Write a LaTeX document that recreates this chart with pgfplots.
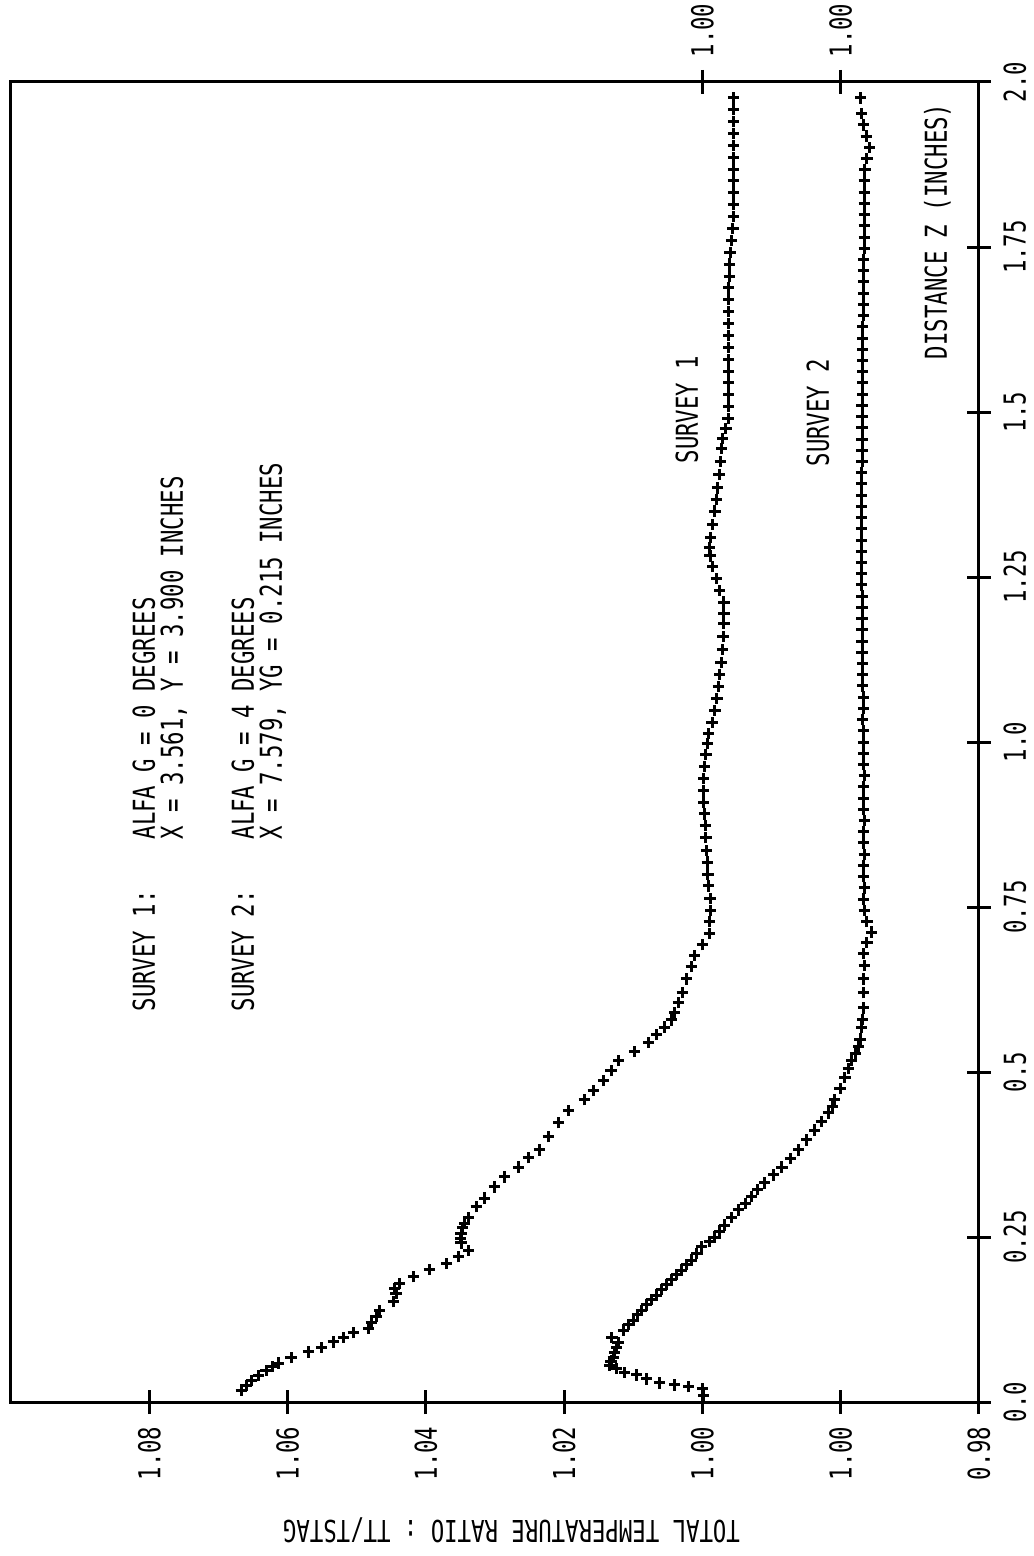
\documentclass[border=0pt]{standalone}
\usepackage{graphicx}
\usepackage{pgfplots}
\usepackage{pgfplotstable}
\pgfplotsset{compat=1.18}
\usepackage{fontspec}
\setmainfont{DejaVu Sans Mono}[FakeStretch=0.74]

% survey 1: z (inches), TT/TSTAG
\pgfplotstableread{
z v
0.018 1.0667
0.025 1.0660
0.033 1.0652
0.040 1.0642
0.048 1.0631
0.054 1.0622
0.059 1.0613
0.067 1.0595
0.076 1.0570
0.083 1.0551
0.091 1.0534
0.098 1.0519
0.105 1.0505
0.112 1.0483
0.121 1.0479
0.130 1.0472
0.139 1.0467
0.152 1.0447
0.165 1.0443
0.172 1.0445
0.180 1.0438
0.190 1.0418
0.201 1.0395
0.210 1.0370
0.220 1.0353
0.230 1.0338
0.241 1.0349
0.248 1.0350
0.256 1.0349
0.264 1.0347
0.271 1.0344
0.280 1.0338
0.296 1.0327
0.309 1.0315
0.326 1.0301
0.341 1.0286
0.356 1.0266
0.370 1.0252
0.382 1.0236
0.402 1.0223
0.423 1.0208
0.442 1.0194
0.458 1.0171
0.472 1.0158
0.487 1.0143
0.502 1.0132
0.517 1.0121
0.531 1.0098
0.545 1.0078
0.557 1.0066
0.568 1.0055
0.579 1.0045
0.590 1.0040
0.605 1.0035
0.620 1.0029
0.641 1.0023
0.660 1.0016
0.677 1.0011
0.693 1.0000
0.710 0.9990
0.728 0.9990
0.745 0.9988
0.763 0.9989
0.782 0.9991
0.800 0.9992
0.818 0.9993
0.836 0.9994
0.855 0.9995
0.873 0.9996
0.891 0.9997
0.909 0.9998
0.927 0.9998
0.945 0.9998
0.963 0.9997
0.981 0.9995
0.998 0.9993
1.013 0.9991
1.030 0.9986
1.048 0.9982
1.066 0.9979
1.084 0.9977
1.102 0.9975
1.120 0.9973
1.140 0.9971
1.160 0.9970
1.180 0.9969
1.195 0.9969
1.212 0.9969
1.230 0.9975
1.248 0.9980
1.266 0.9985
1.282 0.9989
1.294 0.9990
1.310 0.9988
1.330 0.9985
1.350 0.9982
1.367 0.9980
1.385 0.9978
1.405 0.9976
1.425 0.9974
1.445 0.9972
1.460 0.9971
1.475 0.9966
1.490 0.9963
1.508 0.9962
1.526 0.9962
1.544 0.9962
1.562 0.9962
1.580 0.9962
1.598 0.9962
1.616 0.9962
1.634 0.9962
1.652 0.9962
1.670 0.9962
1.688 0.9962
1.706 0.9961
1.724 0.9961
1.742 0.9960
1.760 0.9958
1.778 0.9956
1.796 0.9955
1.814 0.9955
1.832 0.9955
1.850 0.9955
1.868 0.9955
1.886 0.9955
1.904 0.9955
1.922 0.9955
1.940 0.9955
1.958 0.9955
1.976 0.9955
}\surveyone

% survey 2: z (inches), TT/TSTAG
\pgfplotstableread{
z v
0.010 1.0198
0.020 1.0200
0.023 1.0220
0.026 1.0240
0.029 1.0262
0.035 1.0281
0.041 1.0295
0.045 1.0313
0.051 1.0324
0.056 1.0334
0.062 1.0332
0.068 1.0329
0.075 1.0327
0.083 1.0324
0.090 1.0322
0.098 1.0331
0.109 1.0314
0.117 1.0307
0.124 1.0300
0.132 1.0294
0.139 1.0288
0.147 1.0281
0.155 1.0274
0.162 1.0266
0.170 1.0259
0.178 1.0252
0.185 1.0245
0.193 1.0237
0.200 1.0230
0.208 1.0223
0.215 1.0216
0.225 1.0208
0.235 1.0201
0.243 1.0190
0.250 1.0182
0.259 1.0175
0.268 1.0168
0.280 1.0158
0.291 1.0148
0.301 1.0138
0.311 1.0129
0.322 1.0120
0.332 1.0110
0.344 1.0097
0.356 1.0085
0.369 1.0073
0.382 1.0061
0.397 1.0049
0.412 1.0038
0.425 1.0028
0.438 1.0018
0.448 1.0012
0.458 1.0009
0.475 1.0001
0.492 0.9994
0.505 0.9989
0.517 0.9984
0.528 0.9979
0.539 0.9974
0.550 0.9972
0.568 0.9970
0.580 0.9968
0.597 0.9967
0.620 0.9967
0.641 0.9967
0.661 0.9966
0.680 0.9967
0.696 0.9962
0.712 0.9955
0.728 0.9962
0.745 0.9966
0.762 0.9967
0.779 0.9966
0.796 0.9967
0.813 0.9967
0.830 0.9966
0.847 0.9967
0.864 0.9967
0.881 0.9966
0.898 0.9967
0.915 0.9967
0.932 0.9967
0.949 0.9966
0.966 0.9967
0.983 0.9967
1.000 0.9967
1.017 0.9967
1.034 0.9968
1.051 0.9967
1.068 0.9967
1.085 0.9968
1.102 0.9968
1.119 0.9968
1.136 0.9969
1.153 0.9969
1.170 0.9969
1.187 0.9969
1.204 0.9969
1.221 0.9969
1.238 0.9970
1.255 0.9970
1.272 0.9970
1.289 0.9970
1.306 0.9970
1.323 0.9970
1.340 0.9970
1.357 0.9970
1.374 0.9970
1.391 0.9970
1.408 0.9970
1.425 0.9969
1.442 0.9969
1.459 0.9969
1.476 0.9969
1.493 0.9969
1.510 0.9969
1.527 0.9968
1.544 0.9968
1.561 0.9968
1.578 0.9968
1.595 0.9968
1.612 0.9968
1.629 0.9968
1.646 0.9967
1.663 0.9967
1.680 0.9967
1.697 0.9967
1.714 0.9967
1.731 0.9967
1.748 0.9966
1.765 0.9966
1.782 0.9966
1.799 0.9966
1.816 0.9966
1.833 0.9966
1.850 0.9966
1.867 0.9965
1.884 0.9962
1.901 0.9958
1.918 0.9963
1.935 0.9967
1.952 0.9970
1.976 0.9971
}\surveytwo

\pgfplotsset{
  every axis/.append style={
    font=\fontsize{9.05}{8.4}\selectfont,
    line width=0.9pt,
    /pgf/number format/assume math mode=true,
  },
}

\begin{document}
\rotatebox{90}{%
\begin{tikzpicture}
\path[use as bounding box] (0pt,0pt) rectangle (466.8pt,310.2pt);
\begin{axis}[
  at={(46.2pt,16.5pt)}, anchor=south west,
  scale only axis, width=396pt, height=290.4pt,
  xmin=0, xmax=2, ymin=0.96, ymax=1.10,
  xtick={0,0.25,0.5,0.75,1,1.25,1.5,1.75,2},
  xticklabels={0.0,0.25,0.5,0.75,1.0,1.25,1.5,1.75,2.0},
  ytick={0.96,0.98,1.00,1.02,1.04,1.06,1.08},
  yticklabels={0.98,1.00,1.00,1.02,1.04,1.06,1.08},
  xtick pos=bottom, ytick pos=left,
  tick align=center, major tick length=7.2pt,
  tick style={line width=0.9pt, black},
  ylabel={TOTAL TEMPERATURE RATIO : TT/TSTAG},
  ylabel style={at={(axis description cs:-0.097,0.483)}, anchor=center},
  clip=false,
]
\addplot[only marks, mark=+, mark size=1.7pt, line width=0.9pt]
  table[x=z, y=v] {\surveyone};
% survey 2 is drawn 0.02 lower on the same frame
\addplot[only marks, mark=+, mark size=1.7pt, line width=0.9pt]
  table[x=z, y expr=\thisrow{v}-0.02] {\surveytwo};
\end{axis}
\begin{axis}[
  at={(46.2pt,16.5pt)}, anchor=south west,
  scale only axis, width=396pt, height=290.4pt,
  xmin=0, xmax=2, ymin=0.96, ymax=1.10,
  hide x axis, axis line style={draw=none},
  ytick={0.98,1.00}, yticklabels={1.00,1.00},
  ytick pos=right,
  tick align=center, major tick length=7.2pt,
  tick style={line width=0.9pt, black},
]
\end{axis}
\begin{scope}[x=0.3pt, y=0.3pt, every node/.style={font=\fontsize{9.05}{8.4}\selectfont, inner sep=0pt}]
\node[anchor=base west] at (544,879) {SURVEY 1:};
\node[anchor=base west] at (716,879) {ALFA G = 0 DEGREES};
\node[anchor=base west] at (716,851) {X = 3.561, Y = 3.900 INCHES};
\node[anchor=base west] at (544,780) {SURVEY 2:};
\node[anchor=base west] at (716,780) {ALFA G = 4 DEGREES};
\node[anchor=base west] at (716,752) {X = 7.579, YG = 0.215 INCHES};
\node[anchor=base west] at (1092,336) {SURVEY 1};
\node[anchor=base west] at (1089,205) {SURVEY 2};
\node[anchor=base east] at (1453,87) {DISTANCE Z (INCHES)};
\end{scope}
\end{tikzpicture}%
}
\end{document}
